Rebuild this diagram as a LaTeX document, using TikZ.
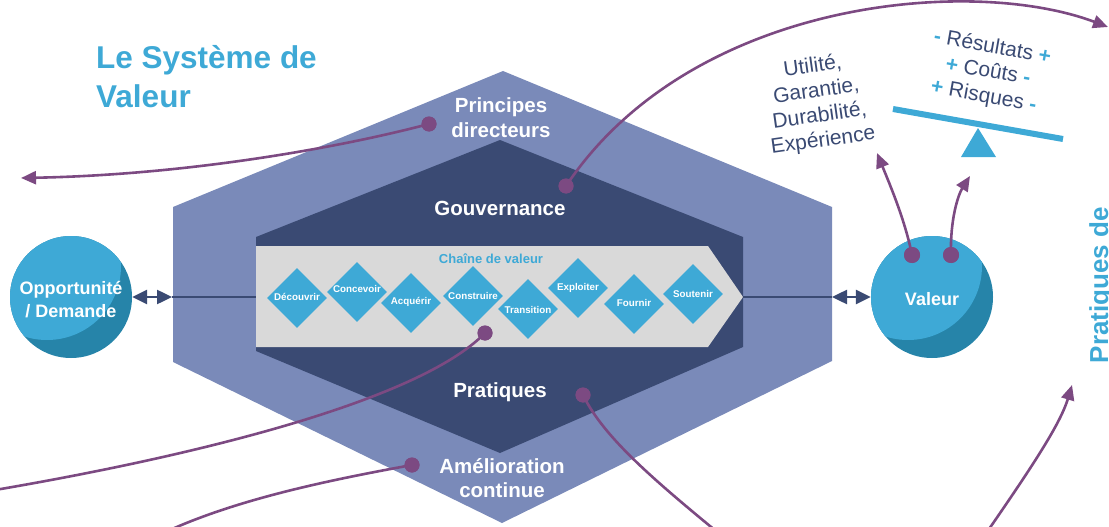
\documentclass[tikz,border=0pt]{standalone}
\usepackage{fontspec}
\setmainfont{Liberation Sans}
\usetikzlibrary{arrows.meta,shapes.geometric}
\definecolor{lpurp}{HTML}{7A8AB9}
\definecolor{navy}{HTML}{3A4A73}
\definecolor{grayband}{HTML}{D9D9D9}
\definecolor{sky}{HTML}{3EA9D6}
\definecolor{teal2}{HTML}{2684A9}
\definecolor{plum}{HTML}{7C4A82}
\begin{document}
\begin{tikzpicture}[x=1pt,y=-1pt,
  lbl/.style={text=white, font=\bfseries\fontsize{20.5}{24}\selectfont, inner sep=0pt, anchor=base},
  circlbl/.style={text=white, font=\bfseries\fontsize{18}{22}\selectfont, inner sep=0pt, anchor=base},
  dot/.style={circle, fill=plum, minimum size=15pt, inner sep=0pt},
  parrow/.style={draw=plum, line width=2.6pt, -{Triangle[length=15pt,width=13pt]}},
  pline/.style={draw=plum, line width=2.6pt},
  dia/.style={diamond, fill=sky, minimum width=60pt, minimum height=60pt, inner sep=0pt},
  dtext/.style={text=white, font=\bfseries\fontsize{9.8}{11}\selectfont, inner sep=0pt},
  ball/.style={circle, fill=teal2, minimum size=122pt, inner sep=0pt,
    path picture={\fill[sky] ([shift={(-24pt,31pt)}]path picture bounding box.center) circle (74pt);}},
  dbl/.style={draw=navy, line width=2.5pt, {Triangle[length=15pt,width=14pt]}-{Triangle[length=15pt,width=14pt]}},
  hline/.style={draw=navy, line width=2pt},
  side/.style={text=navy, font=\fontsize{21}{25}\selectfont, align=center, inner sep=0pt},
]
\useasboundingbox (0,0) rectangle (1109,527);
\clip (0,0) rectangle (1109,527);

% hexagons
\fill[lpurp] (503,71) -- (832,207) -- (832,361) -- (502,523) -- (173,362) -- (173,207) -- cycle;
\fill[navy] (500,140) -- (743,237) -- (743,347) -- (500,453) -- (256,351) -- (256,237) -- cycle;
\fill[grayband] (256,246) -- (708,246) -- (743,297) -- (708,347) -- (256,347) -- cycle;
\coordinate (chainL) at (256,297);
\coordinate (chainTip) at (743,297);

% title
\node[anchor=base west, text=sky, font=\bfseries\fontsize{31.5}{38}\selectfont, inner sep=0pt] (title1) at (96,69) {Le Système de};
\node[anchor=base west, text=sky, font=\bfseries\fontsize{31.5}{38}\selectfont, inner sep=0pt] (title2) at (96,107) {Valeur};

% labels
\node[lbl] (princ1) at (501,113) {Principes};
\node[lbl] (princ2) at (501,137) {directeurs};
\node[lbl] (gouv) at (500,215) {Gouvernance};
\node[lbl] (prat) at (500,397) {Pratiques};
\node[lbl] (amel1) at (502,473) {Amélioration};
\node[lbl] (amel2) at (502,497) {continue};
\node[text=sky, font=\bfseries\fontsize{13}{15}\selectfont, inner sep=0pt, anchor=base] (chaintxt) at (491,263) {Chaîne de valeur};

% diamonds
\node[dia] (d1) at (297,298) {};
\node[dia] (d2) at (357,292) {};
\node[dia] (d3) at (411,303) {};
\node[dia] (d4) at (473,296) {};
\node[dia] (d5) at (528,309) {};
\node[dia] (d6) at (578,288) {};
\node[dia] (d7) at (634,304) {};
\node[dia] (d8) at (693,294) {};
\node[dtext] (t1) at (297,297) {Découvrir};
\node[dtext] (t2) at (357,289) {Concevoir};
\node[dtext] (t3) at (411,302) {Acquérir};
\node[dtext] (t4) at (473,296) {Construire};
\node[dtext] (t5) at (528,310) {Transition};
\node[dtext] (t6) at (578,288) {Exploiter};
\node[dtext] (t7) at (634,303) {Fournir};
\node[dtext] (t8) at (693,294) {Soutenir};

% balls
\node[ball] (opp) at (71,297) {};
\node[ball] (val) at (932,297) {};
\node[circlbl] (opp1) at (71,294) {Opportunité};
\node[circlbl] (opp2) at (71,317) {/ Demande};
\node[circlbl] (valtxt) at (932,305) {Valeur};

% horizontal connectors
\coordinate (jL) at (172,297);
\coordinate (jR) at (832,297);
\draw[hline] (jL) -- (chainL);
\draw[hline] (chainTip) -- (jR);
\draw[dbl] (opp.east) -- (jL);
\draw[dbl] (jR) -- (val.west);

% right side texts
\node[side, rotate=8] (qual) at (818,104) {Utilité,\\Garantie,\\Durabilité,\\Expérience};
\node[side, rotate=-10] (bal) at (988,72) {{\color{sky}\textbf{-}} Résultats {\color{sky}\textbf{+}}\\{\color{sky}\textbf{+}} Coûts {\color{sky}\textbf{-}}\\{\color{sky}\textbf{+}} Risques {\color{sky}\textbf{-}}};
\draw[sky, line width=6pt] (893,109) -- (1063,139);
\fill[sky] (978,128) -- (996,157) -- (961,157) -- cycle;

\node[rotate=90, anchor=base, text=sky, font=\bfseries\fontsize{26}{30}\selectfont, inner sep=0pt] (pdev) at (1108,285) {Pratiques de};

% dots
\node[dot] (dPrin) at (429,124) {};
\node[dot] (dGouv) at (566,186) {};
\node[dot] (dChain) at (485,333) {};
\node[dot] (dPrat) at (583,395) {};
\node[dot] (dAmel) at (412,465) {};
\node[dot, minimum size=16pt] (dV1) at (912,255) {};
\node[dot, minimum size=16pt] (dV2) at (951,255) {};

\coordinate (ePrin) at (21,178);
\coordinate (eGouv) at (1108,27);
\coordinate (eChain) at (-5,490);
\coordinate (eAmel) at (155,537);
\coordinate (ePrat) at (733,545);
\coordinate (sBR) at (978,545);
\coordinate (eBR) at (1072,385);
\coordinate (eV1) at (877,153);
\coordinate (eV2) at (970,176);

\draw[parrow] (dPrin.center) .. controls (330,150) and (180,175) .. (ePrin);
\draw[parrow] (dGouv.center) .. controls (690,0) and (970,-25) .. (eGouv);
\draw[pline] (dChain.center) .. controls (420,400) and (200,455) .. (eChain);
\draw[pline] (dAmel.center) .. controls (330,480) and (230,500) .. (eAmel);
\draw[pline] (dPrat.center) .. controls (605,440) and (660,485) .. (ePrat);
\draw[parrow] (sBR) .. controls (1030,470) and (1060,425) .. (eBR);
\draw[parrow] (dV1.center) .. controls (905,220) and (890,185) .. (eV1);
\draw[parrow] (dV2.center) .. controls (950,220) and (958,195) .. (eV2);

% dots drawn again on top of the curves
\foreach \n in {dPrin,dGouv,dChain,dPrat,dAmel}{\fill[plum] (\n.center) circle (7.5pt);}
\foreach \n in {dV1,dV2}{\fill[plum] (\n.center) circle (8pt);}
\end{tikzpicture}
\end{document}
